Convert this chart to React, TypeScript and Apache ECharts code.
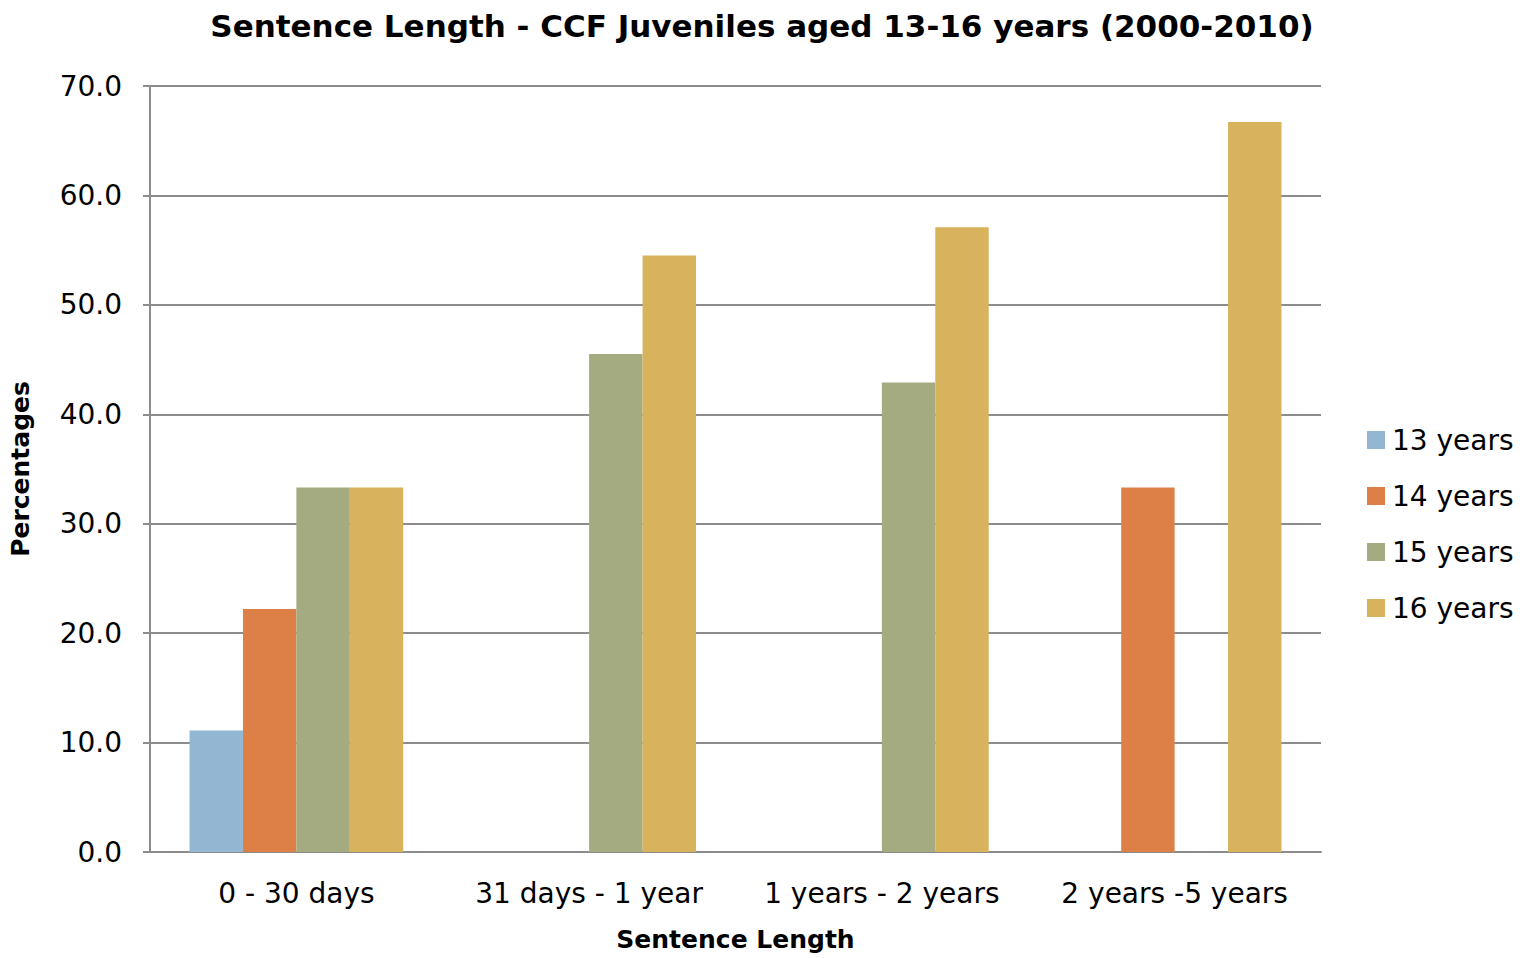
import React, { useEffect, useRef } from "react";
import * as echarts from "echarts";

const categories = ["0 - 30 days", "31 days - 1 year", "1 years - 2 years", "2 years -5 years"];
const seriesNames = ["13 years", "14 years", "15 years", "16 years"];
const s13 = [11.1, null, null, null];
const s14 = [22.2, null, null, 33.3];
const s15 = [33.3, 45.5, 42.9, null];
const s16 = [33.3, 54.5, 57.1, 66.7];
const colors = ["#93b6d3", "#dd8047", "#a5ab81", "#d8b25c"];
const yTicks = { min: 0, max: 70, interval: 10 };

const FONT = "DejaVu Sans";

export default function App() {
  const ref = useRef<HTMLDivElement>(null);
  useEffect(() => {
    document.body.style.margin = "0";
    const chart = echarts.init(ref.current!, null, { renderer: "svg" });
    const data = [s13, s14, s15, s16];
    chart.setOption({
      animation: false,
      textStyle: { fontFamily: FONT },
      title: {
        text: "Sentence Length - CCF Juveniles aged 13-16 years (2000-2010)",
        left: 757,
        textAlign: "center",
        top: 5,
        textStyle: { fontFamily: FONT, fontSize: 31, fontWeight: "bold", color: "#000" },
      },
      legend: {
        orient: "vertical",
        left: 1362,
        top: 421,
        itemWidth: 18,
        itemHeight: 18,
        itemGap: 28,
        icon: "rect",
        data: seriesNames,
        textStyle: { fontFamily: FONT, fontSize: 28, color: "#000", padding: [0, 0, 0, 2] },
      },
      grid: { left: 150, right: 207, top: 86, bottom: 106, containLabel: false },
      xAxis: {
        type: "category",
        data: categories,
        name: "Sentence Length",
        nameLocation: "middle",
        nameGap: 75,
        nameTextStyle: { fontFamily: FONT, fontSize: 25, fontWeight: "bold", color: "#000" },
        axisLine: { lineStyle: { color: "#8c8c8c", width: 2 } },
        axisTick: { show: false },
        axisLabel: { fontSize: 28, color: "#000", margin: 27, interval: 0 },
      },
      yAxis: {
        type: "value",
        min: yTicks.min,
        max: yTicks.max,
        interval: yTicks.interval,
        name: "Percentages",
        nameLocation: "middle",
        nameGap: 117,
        nameRotate: 90,
        nameTextStyle: { fontFamily: FONT, fontSize: 25, fontWeight: "bold", color: "#000" },
        axisLine: { show: true, lineStyle: { color: "#8c8c8c", width: 2 } },
        axisTick: { show: true, length: 7, lineStyle: { color: "#8c8c8c", width: 2 } },
        splitLine: { lineStyle: { color: "#8c8c8c", width: 2 } },
        axisLabel: {
          fontSize: 28,
          color: "#000",
          margin: 28,
          formatter: (v: number) => v.toFixed(1),
        },
      },
      series: seriesNames.map((n, i) => ({
        name: n,
        type: "bar",
        data: data[i],
        barGap: "0%",
        barCategoryGap: "27%",
        itemStyle: { color: colors[i] },
      })),
    });
    return () => chart.dispose();
  }, []);
  return <div ref={ref} style={{ width: 1528, height: 958 }} />;
}
